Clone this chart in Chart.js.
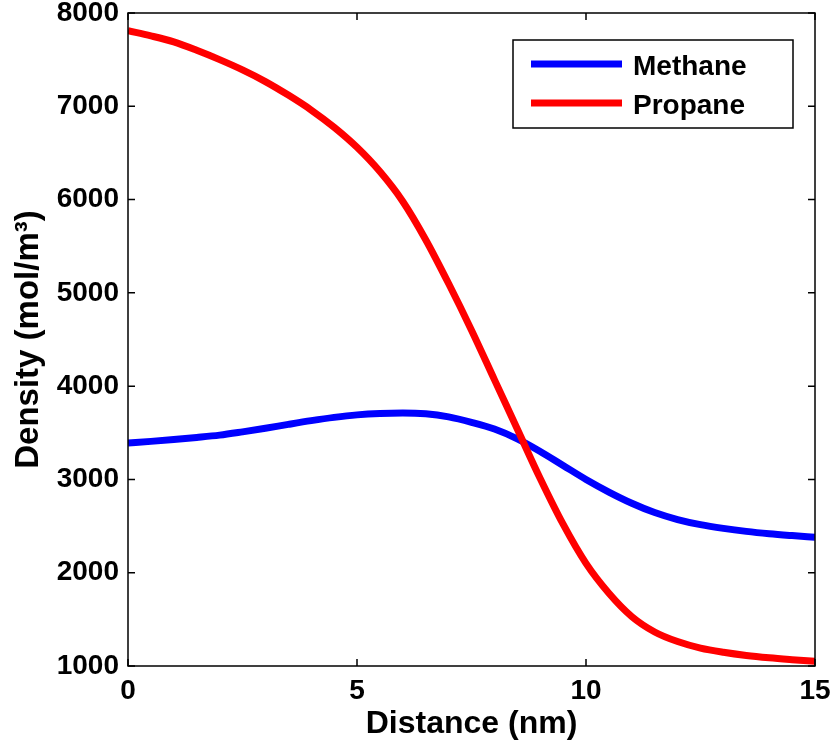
<!DOCTYPE html>
<html lang="en">
<head>
    <meta charset="UTF-8">
    <title>Density profile</title>
    <script src="https://cdn.jsdelivr.net/npm/chart.js"></script>
    <style>
        body { margin: 0; background: #fff; }
        #wrap { width: 830px; height: 746px; }
    </style>
</head>
<body>
    <div id="wrap">
        <canvas id="densityChart" width="830" height="746"></canvas>
    </div>

    <script>
        // values, every 0.5 nm
        const distance = [0, 0.5, 1, 1.5, 2, 2.5, 3, 3.5, 4, 4.5, 5, 5.5, 6, 6.5, 7, 7.5,
                          8, 8.5, 9, 9.5, 10, 10.5, 11, 11.5, 12, 12.5, 13, 13.5, 14, 14.5, 15];
        const methane = [3390, 3408, 3428, 3450, 3475, 3510, 3548, 3590, 3630, 3665, 3692, 3707, 3712, 3703, 3670, 3612,
                         3540, 3435, 3300, 3150, 3000, 2865, 2745, 2645, 2570, 2515, 2475, 2443, 2418, 2398, 2380];
        const propane = [7810, 7755, 7690, 7600, 7500, 7390, 7265, 7120, 6960, 6775, 6560, 6300, 5980, 5570, 5100, 4600,
                         4070, 3540, 3010, 2520, 2100, 1780, 1530, 1365, 1262, 1192, 1147, 1113, 1088, 1068, 1050];
        const xTicks = [0, 5, 10, 15];
        const yTicks = [1000, 2000, 3000, 4000, 5000, 6000, 7000, 8000];

        const FONT = '"Liberation Sans", Arial, Helvetica, sans-serif';

        function toPoints(ys) {
            return distance.map((d, i) => ({ x: d, y: ys[i] }));
        }

        // box round the plot with inward ticks on all four sides
        const framePlugin = {
            id: 'frame',
            afterDatasetsDraw(chart) {
                const { ctx, chartArea: a, scales } = chart;
                ctx.save();
                ctx.strokeStyle = '#000';
                ctx.lineWidth = 1.5;
                ctx.strokeRect(a.left, a.top, a.right - a.left, a.bottom - a.top);
                ctx.beginPath();
                xTicks.forEach(v => {
                    const px = scales.x.getPixelForValue(v);
                    ctx.moveTo(px, a.bottom); ctx.lineTo(px, a.bottom - 7);
                    ctx.moveTo(px, a.top); ctx.lineTo(px, a.top + 7);
                });
                yTicks.forEach(v => {
                    const py = scales.y.getPixelForValue(v);
                    ctx.moveTo(a.left, py); ctx.lineTo(a.left + 7, py);
                    ctx.moveTo(a.right, py); ctx.lineTo(a.right - 7, py);
                });
                ctx.stroke();
                ctx.restore();
            }
        };

        // legend box in the upper right, as in the original
        const legendBoxPlugin = {
            id: 'legendBox',
            afterDraw(chart) {
                const { ctx } = chart;
                const x0 = 513, y0 = 40, w = 280, h = 88;
                ctx.save();
                ctx.fillStyle = '#fff';
                ctx.fillRect(x0, y0, w, h);
                ctx.strokeStyle = '#000';
                ctx.lineWidth = 1.5;
                ctx.strokeRect(x0, y0, w, h);
                const rows = [chart.data.datasets[1], chart.data.datasets[0]];
                rows.forEach((ds, i) => {
                    const ly = 64 + i * 39;
                    ctx.strokeStyle = ds.borderColor;
                    ctx.lineWidth = 7;
                    ctx.beginPath();
                    ctx.moveTo(531, ly);
                    ctx.lineTo(622, ly);
                    ctx.stroke();
                    ctx.fillStyle = '#000';
                    ctx.font = 'bold 28px ' + FONT;
                    ctx.textBaseline = 'alphabetic';
                    ctx.fillText(ds.label, 633, ly + 11);
                });
                ctx.restore();
            }
        };

        new Chart(document.getElementById('densityChart'), {
            type: 'line',
            data: {
                datasets: [
                    {
                        label: 'Propane',
                        data: toPoints(propane),
                        borderColor: '#ff0000',
                        borderWidth: 7,
                        pointRadius: 0,
                        cubicInterpolationMode: 'monotone'
                    },
                    {
                        label: 'Methane',
                        data: toPoints(methane),
                        borderColor: '#0000ff',
                        borderWidth: 7,
                        pointRadius: 0,
                        cubicInterpolationMode: 'monotone'
                    }
                ]
            },
            options: {
                responsive: false,
                animation: false,
                devicePixelRatio: 1,
                layout: { padding: { top: 13, right: 15, left: 0, bottom: 0 } },
                plugins: {
                    legend: { display: false },
                    tooltip: { enabled: false }
                },
                scales: {
                    x: {
                        type: 'linear',
                        min: 0,
                        max: 15,
                        afterBuildTicks: s => { s.ticks = xTicks.map(v => ({ value: v })); },
                        afterFit: s => {
                            s.height = 80;
                            s.paddingLeft = 0;
                            s.paddingRight = 0;
                        },
                        grid: { display: false, drawTicks: false },
                        border: { display: false },
                        ticks: {
                            color: '#000',
                            padding: 8,
                            maxRotation: 0,
                            callback: v => String(v),
                            font: { family: FONT, size: 28, weight: 'bold' }
                        },
                        title: {
                            display: true,
                            text: 'Distance (nm)',
                            color: '#000',
                            padding: { top: 4, bottom: 4 },
                            font: { family: FONT, size: 32, weight: 'bold', lineHeight: 1.1 }
                        }
                    },
                    y: {
                        min: 1000,
                        max: 8000,
                        afterBuildTicks: s => { s.ticks = yTicks.map(v => ({ value: v })); },
                        afterFit: s => {
                            s.width = 128;
                            s.paddingTop = 0;
                            s.paddingBottom = 0;
                        },
                        grid: { display: false, drawTicks: false },
                        border: { display: false },
                        ticks: {
                            color: '#000',
                            padding: 9,
                            callback: v => String(v),
                            font: { family: FONT, size: 28, weight: 'bold' }
                        },
                        title: {
                            display: true,
                            text: 'Density (mol/m³)',
                            color: '#000',
                            padding: { top: 11, bottom: 11 },
                            font: { family: FONT, size: 33, weight: 'bold', lineHeight: 1.1 }
                        }
                    }
                }
            },
            plugins: [framePlugin, legendBoxPlugin]
        });
    </script>
</body>
</html>
